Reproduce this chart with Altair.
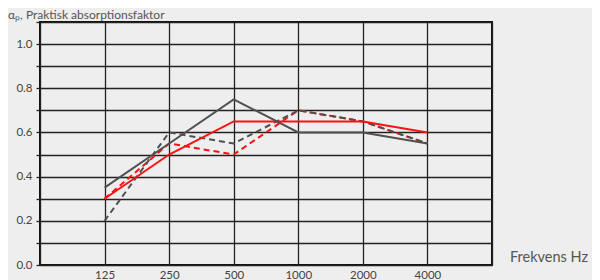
import altair as alt
import pandas as pd

freqs = ["125", "250", "500", "1000", "2000", "4000"]
gray_solid = [0.35, 0.55, 0.75, 0.60, 0.60, 0.55]
gray_dash = [0.20, 0.60, 0.55, 0.70, 0.65, 0.55]
red_solid = [0.30, 0.50, 0.65, 0.65, 0.65, 0.60]
red_dash = [0.30, 0.55, 0.50, 0.70, 0.65, 0.55]

series = [("red_dash", red_dash), ("gray_dash", gray_dash), ("red_solid", red_solid), ("gray_solid", gray_solid)]
rows = []
for name, vals in series:
    for i, (f, v) in enumerate(zip(freqs, vals)):
        rows.append({"series": name, "idx": i + 1, "freq": f, "value": v})
df = pd.DataFrame(rows)

W, H = 452, 243
label_arr = "[''," + ",".join("'%s'" % f for f in freqs) + ",'']"

x = alt.X("idx:Q", scale=alt.Scale(domain=[0, 7], nice=False),
          axis=alt.Axis(values=list(range(8)), labelExpr=label_arr + "[datum.value]",
                        title=None, grid=True, gridColor="#222", gridWidth=1.3,
                        domain=False, ticks=False, labelPadding=4,
                        labelFont="Lato", labelFontSize=11.5, labelColor="#444"))
y = alt.Y("value:Q", scale=alt.Scale(domain=[0, 1.1], nice=False),
          axis=alt.Axis(values=[round(v * 0.1, 1) for v in range(12)],
                        labelExpr="round(datum.value*10)%2==0 && datum.value<1.05 ? format(datum.value,'.1f') : ''",
                        title=None, grid=True, gridColor="#222", gridWidth=1.3,
                        domain=False, ticks=True, tickColor="#222", tickSize=4, tickWidth=1.3,
                        labelPadding=4,
                        labelFont="Lato", labelFontSize=11.5, labelColor="#444"))

def line(name, color, dash):
    kw = {"strokeDash": [6, 4]} if dash else {}
    return alt.Chart(df).transform_filter(alt.datum.series == name).mark_line(
        color=color, strokeWidth=2, **kw).encode(x=x, y=y)

layers = [
    line("red_dash", "#ff1010", True),
    line("gray_dash", "#505050", True),
    line("red_solid", "#ff1010", False),
    line("gray_solid", "#505050", False),
]

ylabel = alt.Chart(pd.DataFrame({"t": ["αₚ, Praktisk absorptionsfaktor"]})).mark_text(
    align="left", baseline="alphabetic", font="Lato", fontSize=12, color="#555"
).encode(text="t:N", x=alt.value(-32), y=alt.value(-3))

xlabel = alt.Chart(pd.DataFrame({"t": ["Frekvens Hz"]})).mark_text(
    align="left", baseline="middle", font="Lato", fontSize=14.5, color="#555"
).encode(text="t:N", x=alt.value(W + 18), y=alt.value(H - 7))

chart = alt.layer(*layers, ylabel, xlabel).properties(
    width=W, height=H, autosize="none",
    padding={"left": 32, "top": 14, "right": 100, "bottom": 15},
    background="#eeeeee",
).configure_view(stroke="#111", strokeWidth=2)

chart.save("out.html", embed_options={"renderer": "svg", "actions": False})
